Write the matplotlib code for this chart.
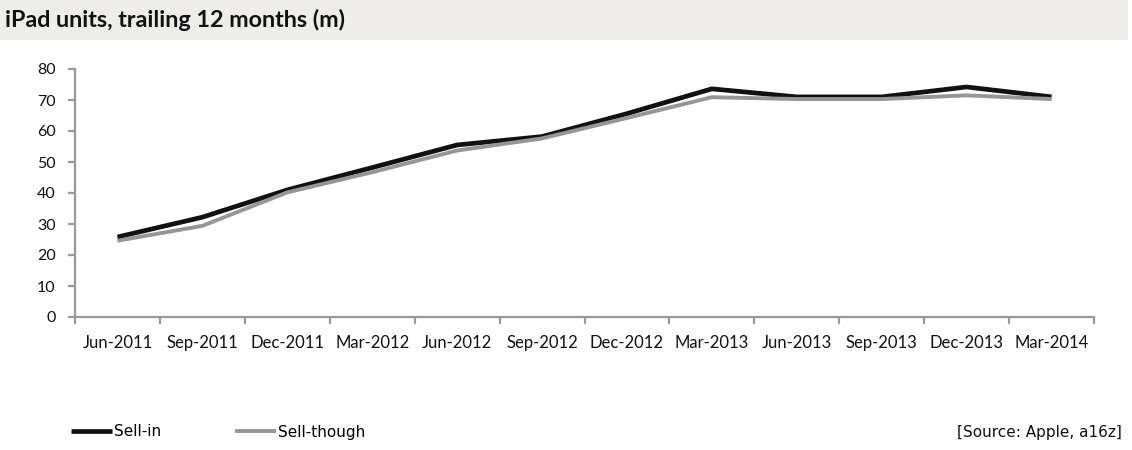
import matplotlib
matplotlib.use("Agg")
import matplotlib.pyplot as plt
from matplotlib.patches import Rectangle
import numpy as np

categories = ["Jun-2011", "Sep-2011", "Dec-2011", "Mar-2012", "Jun-2012", "Sep-2012",
              "Dec-2012", "Mar-2013", "Jun-2013", "Sep-2013", "Dec-2013", "Mar-2014"]
sell_in = [25.8, 32.2, 41.0, 48.2, 55.5, 58.2, 65.6, 73.6, 71.0, 71.0, 74.2, 71.0]
sell_through = [24.6, 29.4, 40.2, 46.7, 53.7, 57.6, 64.2, 70.9, 70.3, 70.3, 71.5, 70.3]
yticks = [0, 10, 20, 30, 40, 50, 60, 70, 80]

W, H = 1132, 450
fig = plt.figure(figsize=(W / 100, H / 100), dpi=100)
fig.patch.set_facecolor("white")

# title banner
fig.patches.append(Rectangle((0, 1 - 40 / H), 1128 / W, 40 / H, transform=fig.transFigure,
                             facecolor="#efedea", edgecolor="none", zorder=0))
fig.text(5 / W, 1 - 20 / H, "iPad units, trailing 12 months (m)", fontsize=16.8,
         fontweight="bold", family="Lato", va="center", ha="left", color="#111111")

ax = fig.add_axes([75 / W, 1 - 317 / H, (1094 - 75) / W, (317 - 69) / H])
x = np.arange(len(categories))
ax.plot(x, sell_in, color="#111111", lw=3.4, solid_capstyle="butt", label="Sell-in", zorder=3)
ax.plot(x, sell_through, color="#969696", lw=2.8, solid_capstyle="butt", label="Sell-though", zorder=4)

ax.set_xlim(-0.5, len(categories) - 0.5)
ax.set_ylim(0, 80)
for s in ["top", "right"]:
    ax.spines[s].set_visible(False)
for s in ["left", "bottom"]:
    ax.spines[s].set_color("#999999")
    ax.spines[s].set_linewidth(1.6)

ax.set_yticks(yticks)
ax.set_yticklabels([str(v) for v in yticks], family="Lato", fontsize=11.5, color="#111111")
ax.tick_params(axis="y", direction="out", length=5, width=1.6, color="#999999", pad=9)

ax.set_xticks(x)
ax.set_xticklabels(categories, family="Lato", fontsize=12, color="#111111")
ax.tick_params(axis="x", which="major", length=0, pad=13)
ax.set_xticks(np.arange(len(categories) + 1) - 0.5, minor=True)
ax.tick_params(axis="x", which="minor", direction="out", length=5, width=1.6, color="#999999")

leg = fig.legend(loc="center left", bbox_to_anchor=(57 / W, 1 - 432 / H), ncol=2, frameon=False,
                 handlelength=2.7, handletextpad=0.1, columnspacing=4.85,
                 prop={"family": "DejaVu Sans", "size": 11})
fig.text(1122 / W, 1 - 433 / H, "[Source: Apple, a16z]", family="DejaVu Sans",
         fontsize=11, ha="right", va="center", color="#111111")

fig.savefig("out.png", dpi=100)
